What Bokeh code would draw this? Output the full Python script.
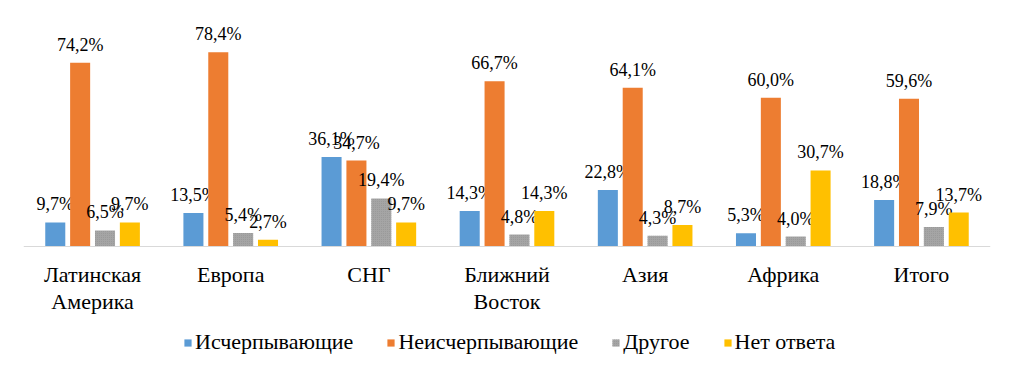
from bokeh.plotting import figure
from bokeh.models import ColumnDataSource, FactorRange, Legend, LegendItem, Range1d, Span
from bokeh.transform import dodge
from bokeh.core.properties import value
from bokeh.embed import file_html
from bokeh.resources import INLINE

categories = ["Латинская\nАмерика", "Европа", "СНГ", "Ближний\nВосток", "Азия", "Африка", "Итого"]
series_names = ["Исчерпывающие", "Неисчерпывающие", "Другое", "Нет ответа"]
exhaustive = [9.7, 13.5, 36.1, 14.3, 22.8, 5.3, 18.8]
nonexhaustive = [74.2, 78.4, 34.7, 66.7, 64.1, 60.0, 59.6]
other = [6.5, 5.4, 19.4, 4.8, 4.3, 4.0, 7.9]
no_answer = [9.7, 2.7, 9.7, 14.3, 8.7, 30.7, 13.7]

colors = ["#5B9BD5", "#ED7D31", "#A5A5A5", "#FFC000"]
offsets = [-0.27, -0.09, 0.09, 0.27]
series = [exhaustive, nonexhaustive, other, no_answer]

FONT = "Liberation Serif"

# layout: bar area 223 px tall for 0..90, plus 119 px below for category labels and legend
PX_PER_UNIT = 223 / 90
Y_BOTTOM = -119 / PX_PER_UNIT

p = figure(frame_width=967, frame_height=342,
           x_range=FactorRange(*categories, range_padding=0, factor_padding=0),
           y_range=Range1d(Y_BOTTOM, 90), output_backend="svg", toolbar_location=None,
           min_border_left=23, min_border_right=18, min_border_top=23, min_border_bottom=0)
p.outline_line_color = None
p.background_fill_color = "white"
p.border_fill_color = "white"
p.grid.visible = False
p.xaxis.visible = False
p.yaxis.visible = False

# baseline (category axis line)
p.add_layout(Span(location=0, dimension="width", line_color="#D9D9D9", line_width=1))

items = []
for name, vals, col, off in zip(series_names, series, colors, offsets):
    src = ColumnDataSource(dict(cat=categories, v=vals,
                                lab=[("%.1f%%" % x).replace(".", ",") for x in vals]))
    kw = {}
    if name == "Другое":
        kw = dict(hatch_pattern="dot", hatch_color="#8a8a8a", hatch_scale=2, hatch_alpha=0.6)
    r = p.vbar(x=dodge("cat", off, range=p.x_range), top="v", bottom=0, width=0.145, source=src,
               fill_color=col, line_color=None, **kw)
    p.text(x=dodge("cat", off, range=p.x_range), y="v", text="lab", source=src,
           text_align="center", text_baseline="alphabetic", y_offset=-18,
           text_font=value(FONT), text_font_size="18px", text_color="#000000")
    items.append(LegendItem(label=name, renderers=[r]))

# category tick labels
cat_src = ColumnDataSource(dict(cat=categories, y0=[0] * len(categories)))
p.text(x="cat", y="y0", text="cat", source=cat_src, text_align="center", text_baseline="top",
       y_offset=15, text_font=value(FONT), text_font_size="22px", text_color="#000000",
       text_line_height=1.1)

legend = Legend(items=items, orientation="horizontal", location=(160, 10),
                label_text_font=FONT, label_text_font_size="22px", label_text_color="#000000",
                glyph_width=9, glyph_height=9, spacing=33, label_standoff=3,
                border_line_color=None, background_fill_alpha=0, margin=0, padding=0)
p.add_layout(legend, "center")

open("out.html", "w").write(file_html(p, INLINE))
